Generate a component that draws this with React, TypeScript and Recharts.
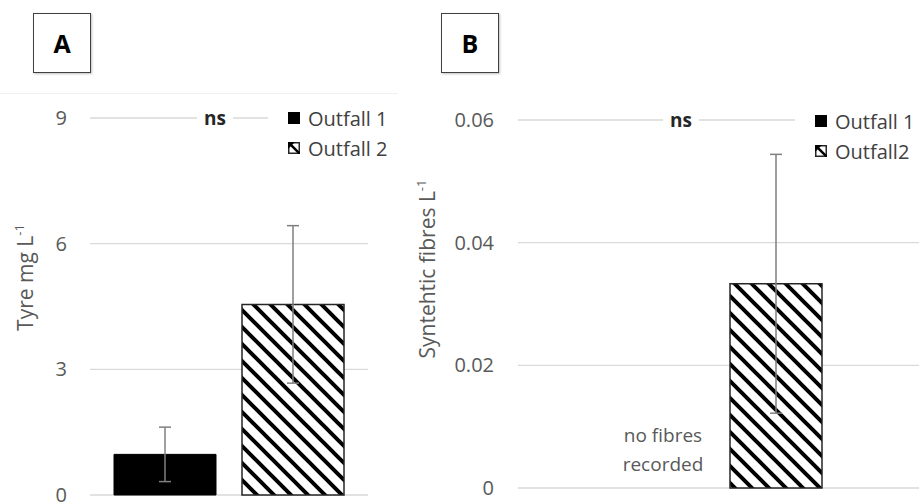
import { Bar, BarChart, CartesianGrid, ErrorBar, LabelList, Legend, ReferenceLine, XAxis, YAxis } from "recharts";

// Panel A: tyre particles
const TYRE_SITES = ["Outfall 1", "Outfall 2"];
const TYRE_MEAN = [0.97, 4.55];
const TYRE_ERR = [0.65, 1.88];
const TYRE_TICKS = [0, 3, 6, 9];

// Panel B: synthetic fibres (nothing found at outfall 1)
const FIBRE_SITES = ["Outfall 1", "Outfall2"];
const FIBRE_MEAN = [0, 0.0333];
const FIBRE_ERR = [0, 0.0211];
const FIBRE_TICKS = [0, 0.02, 0.04, 0.06];
const NO_FIBRE_NOTE = ["no fibres", "recorded"];

const tyreData = [{ group: "A", o1: TYRE_MEAN[0], o1Err: TYRE_ERR[0], o2: TYRE_MEAN[1], o2Err: TYRE_ERR[1] }];
const fibreData = [{ group: "B", o1: FIBRE_MEAN[0], o1Err: FIBRE_ERR[0], o2: FIBRE_MEAN[1], o2Err: FIBRE_ERR[1] }];

const FONT = "'Open Sans', sans-serif";
const GREY = "#595959";
const GRID = "#d9d9d9";
const OUTLINE = "#262626";
const WHISKER = "#7f7f7f";

function Hatch({ id }: { id: string }) {
  return (
    <defs>
      <pattern id={id} patternUnits="userSpaceOnUse" width={17} height={17}>
        <rect width={17} height={17} fill="#fff" />
        <path d="M0,0 L17,17 M-3,14 L3,20 M14,-3 L20,3" stroke="#000" strokeWidth={4} />
      </pattern>
    </defs>
  );
}

function AxisTitle({ viewBox, text, dx, dy }: any) {
  const cx = viewBox.x + dx;
  const cy = viewBox.y + viewBox.height / 2 + dy;
  return (
    <text transform={`translate(${cx},${cy}) rotate(-90)`} textAnchor="middle" fill={GREY} fontSize={21} fontFamily={FONT}>
      {text}
      <tspan fontSize={13} dy={-9}>-1</tspan>
    </text>
  );
}

function NsMark({ viewBox, offsetX }: any) {
  const cx = viewBox.x + offsetX;
  const cy = viewBox.y;
  return (
    <g>
      <rect x={cx - 18} y={cy - 6} width={36} height={12} fill="#fff" />
      <text x={cx} y={cy} dy="0.35em" textAnchor="middle" fontWeight="bold" fontSize={19} fill="#262626" fontFamily={FONT}>
        ns
      </text>
    </g>
  );
}

function KeyIcon({ hatched }: { hatched: boolean }) {
  if (!hatched) return <svg width={12} height={12}><rect width={12} height={12} fill="#000" /></svg>;
  return (
    <svg width={12} height={12}>
      <rect x={0.75} y={0.75} width={10.5} height={10.5} fill="#fff" stroke={OUTLINE} strokeWidth={1.5} />
      <polygon points="0,0 7,0 0,7" fill="#000" />
      <line x1={0} y1={0} x2={12} y2={12} stroke="#000" strokeWidth={2.5} />
    </svg>
  );
}

function SeriesKey({ names }: { names: string[] }) {
  return (
    <div style={{ background: "#fff", padding: "0 4px 0 20px", fontFamily: FONT, fontSize: 20, color: "#404040" }}>
      {names.map((name, i) => (
        <div key={name} style={{ display: "flex", alignItems: "center", height: 30, whiteSpace: "nowrap" }}>
          <KeyIcon hatched={i === 1} />
          <span style={{ marginLeft: 8 }}>{name}</span>
        </div>
      ))}
    </div>
  );
}

// note drawn over the empty outfall 1 slot, anchored to the baseline
function NoFibreNote(props: any) {
  const { x, y, width, height } = props;
  const cx = Number(x) + Number(width) / 2;
  const base = Number(y) + Number(height);
  return (
    <text textAnchor="middle" fill={GREY} fontSize={19} fontFamily={FONT}>
      {NO_FIBRE_NOTE.map((line, i) => (
        <tspan key={line} x={cx} y={base - 46 + i * 29}>
          {line}
        </tspan>
      ))}
    </text>
  );
}

const tickStyle = { fill: GREY, fontSize: 20, fontFamily: FONT };

function BoxLetter({ left, letter }: { left: number; letter: string }) {
  return (
    <div
      style={{
        position: "absolute",
        left,
        top: 13,
        width: 56,
        height: 58,
        border: "1.5px solid #404040",
        boxShadow: "1px 1px 2px rgba(0,0,0,0.25)",
        display: "flex",
        alignItems: "center",
        justifyContent: "center",
        fontFamily: FONT,
        fontWeight: "bold",
        fontSize: 25,
        color: "#000",
        background: "#fff",
      }}
    >
      {letter}
    </div>
  );
}

export default function App() {
  return (
    <div style={{ position: "fixed", left: 0, top: 0, width: 919, height: 503, overflow: "hidden", background: "#fff" }}>
      <div style={{ position: "absolute", left: 0, top: 93, width: 398, height: 1, background: "#f0f0f0" }} />
      <BoxLetter left={33} letter="A" />
      <BoxLetter left={441} letter="B" />

      <div style={{ position: "absolute", left: 0, top: 0 }}>
        <BarChart width={400} height={503} data={tyreData} margin={{ top: 118, right: 32, bottom: 8, left: 0 }} barCategoryGap={24} barGap={26}>
          <Hatch id="hatchTyre" />
          <CartesianGrid vertical={false} stroke={GRID} strokeWidth={1.3} />
          <XAxis dataKey="group" hide />
          <YAxis
            width={90}
            domain={[0, 9]}
            ticks={TYRE_TICKS}
            interval={0}
            axisLine={false}
            tickLine={false}
            tickSize={0}
            tickMargin={23}
            tick={tickStyle}
            label={<AxisTitle text="Tyre mg L" dx={33} dy={-29} />}
          />
          <ReferenceLine y={9} stroke="none" label={<NsMark offsetX={125} />} />
          <Bar dataKey="o1" name={TYRE_SITES[0]} fill="#000" stroke="#000" isAnimationActive={false}>
            <ErrorBar dataKey="o1Err" width={6} stroke={WHISKER} strokeWidth={1.5} isAnimationActive={false} />
          </Bar>
          <Bar dataKey="o2" name={TYRE_SITES[1]} fill="url(#hatchTyre)" stroke={OUTLINE} strokeWidth={1.5} isAnimationActive={false}>
            <ErrorBar dataKey="o2Err" width={6} stroke={WHISKER} strokeWidth={1.5} isAnimationActive={false} />
          </Bar>
          <Legend
            layout="vertical"
            align="center"
            verticalAlign="middle"
            wrapperStyle={{ left: 268, top: 103, width: "auto" }}
            content={() => <SeriesKey names={TYRE_SITES} />}
          />
        </BarChart>
      </div>

      <div style={{ position: "absolute", left: 400, top: 0 }}>
        <BarChart width={521} height={503} data={fibreData} margin={{ top: 120, right: 0, bottom: 15, left: 0 }} barCategoryGap={99} barGap={21}>
          <Hatch id="hatchFibre" />
          <CartesianGrid vertical={false} stroke={GRID} strokeWidth={1.3} />
          <XAxis dataKey="group" hide />
          <YAxis
            width={118}
            domain={[0, 0.06]}
            ticks={FIBRE_TICKS}
            interval={0}
            axisLine={false}
            tickLine={false}
            tickSize={0}
            tickMargin={24}
            tick={tickStyle}
            label={<AxisTitle text="Syntehtic fibres L" dx={35} dy={-35} />}
          />
          <ReferenceLine y={0.06} stroke="none" label={<NsMark offsetX={163} />} />
          {/* zero-valued bar: minPointSize keeps a slot so its note can be placed */}
          <Bar dataKey="o1" name={FIBRE_SITES[0]} fill="none" stroke="none" minPointSize={1} isAnimationActive={false}>
            <LabelList dataKey="o1" content={<NoFibreNote />} />
          </Bar>
          <Bar dataKey="o2" name={FIBRE_SITES[1]} fill="url(#hatchFibre)" stroke={OUTLINE} strokeWidth={1.5} isAnimationActive={false}>
            <ErrorBar dataKey="o2Err" width={6} stroke={WHISKER} strokeWidth={1.5} isAnimationActive={false} />
          </Bar>
          <Legend
            layout="vertical"
            align="center"
            verticalAlign="middle"
            wrapperStyle={{ left: 395, top: 106, width: "auto" }}
            content={() => <SeriesKey names={FIBRE_SITES} />}
          />
        </BarChart>
      </div>
    </div>
  );
}
